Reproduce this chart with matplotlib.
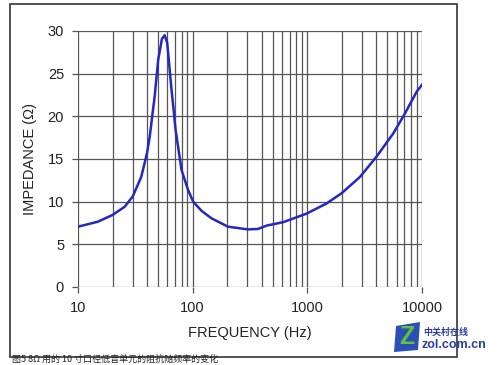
import numpy as np
import matplotlib.pyplot as plt
from matplotlib.patches import Rectangle, Polygon
from matplotlib.ticker import LogLocator, NullFormatter

plt.rcParams['font.family'] = ['Liberation Sans', 'Noto Sans CJK SC', 'DejaVu Sans']

# impedance curve
freq = [10, 14.9, 20, 25.5, 30, 35.6, 40, 42.2, 46.6, 50, 54, 57, 60, 65, 71, 80, 91,
        101, 120, 146, 203, 303, 370, 443, 617, 986, 1475, 1995, 2878, 4025, 5620,
        7110, 9000, 10000]
imp = [7.07, 7.65, 8.44, 9.4, 10.6, 12.9, 15.7, 17.6, 22.3, 26.6, 29.1, 29.5, 28.6,
       23.5, 18.4, 13.7, 11.4, 10.0, 8.9, 8.05, 7.07, 6.75, 6.8, 7.2, 7.6, 8.6, 9.8,
       11.0, 12.9, 15.3, 18.0, 20.35, 22.9, 23.7]
xticks = [10, 100, 1000, 10000]
yticks = [0, 5, 10, 15, 20, 25, 30]

fig = plt.figure(figsize=(5, 3.65), dpi=100)
W, H = 500, 365

# outer frame
fig.patches.append(Rectangle((10 / W, 1 - 357 / H), 447 / W, 353 / H, transform=fig.transFigure,
                             fill=False, edgecolor='#444444', linewidth=1.3))

ax = fig.add_axes([78 / W, 1 - 287 / H, 344 / W, 256 / H])
ax.plot(freq, imp, color='#2626c0', linewidth=1.8)
ax.set_xscale('log')
ax.set_xlim(10, 10000)
ax.set_ylim(0, 30)
ax.set_xticks(xticks)
ax.set_xticklabels([str(t) for t in xticks])
ax.xaxis.set_minor_locator(LogLocator(base=10, subs=np.arange(2, 10)))
ax.xaxis.set_minor_formatter(NullFormatter())
ax.set_yticks(yticks)
ax.grid(True, which='major', color='#555555', linewidth=0.9)
ax.grid(True, which='minor', axis='x', color='#555555', linewidth=0.9)
for s in ax.spines.values():
    s.set_visible(False)
ax.tick_params(which='major', length=4, width=0.9, color='#555555', labelsize=10.5,
               labelcolor='#222222', pad=6)
ax.tick_params(which='minor', length=0)
ax.set_xlabel('FREQUENCY (Hz)', fontsize=10.5, color='#222222', labelpad=8)
ax.set_ylabel('IMPEDANCE (Ω)', fontsize=10.5, color='#222222', labelpad=8)

# watermark logo
fig.patches.append(Polygon([(396 / W, 1 - 326 / H), (420 / W, 1 - 322 / H), (418 / W, 1 - 350 / H),
                            (394 / W, 1 - 352 / H)], closed=True, transform=fig.transFigure,
                           facecolor='#2b4fb5', edgecolor='none'))
fig.text(407 / W, 1 - 337 / H, 'Z', transform=fig.transFigure, fontsize=18, fontweight='bold',
         color='#5ec43a', ha='center', va='center')
fig.text(423 / W, 1 - 332 / H, '中关村在线', fontsize=6.5, color='#2a3fa0', fontweight='bold',
         ha='left', va='center', family=['Noto Sans CJK SC', 'DejaVu Sans'])
fig.text(422 / W, 1 - 345 / H, 'zol.com.cn', fontsize=9, color='#2a3fa0', fontweight='bold',
         ha='left', va='center')

# caption along the bottom edge
fig.text(12 / W, 1 / H, '图5 8Ω 用的 10 寸口径低音单元的阻抗随频率的变化', fontsize=6.5,
         color='#222222', ha='left', va='bottom', family=['Noto Sans CJK SC', 'DejaVu Sans'])

fig.savefig('out.png', dpi=100)
